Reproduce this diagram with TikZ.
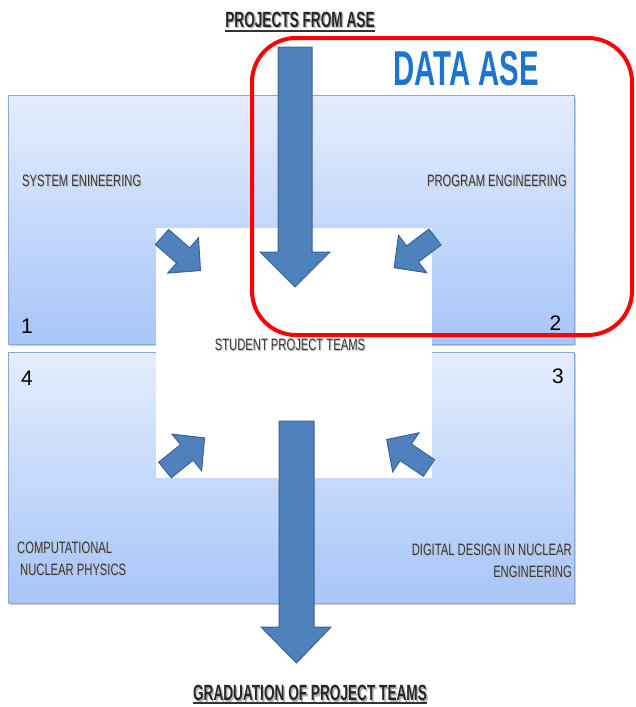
\documentclass[tikz,border=0pt]{standalone}
\usepackage{fontspec}
\setmainfont{Liberation Sans}
\newfontfamily\hdrfont[FakeStretch=0.62]{Liberation Sans}
\newfontfamily\datafont[FakeStretch=0.6]{Liberation Sans}
\newfontfamily\lblfont[FakeStretch=0.68]{Liberation Sans}
\definecolor{arrfill}{HTML}{4F81BD}
\definecolor{arrline}{HTML}{3A6496}
\definecolor{boxtop}{HTML}{E4EDFD}
\definecolor{boxbot}{HTML}{A7C5F8}
\definecolor{boxline}{HTML}{86A9DA}
\definecolor{txtgray}{HTML}{363636}
\definecolor{dataBlue}{HTML}{1C74D0}
\begin{document}
\begin{tikzpicture}[x=1pt,y=-1pt,
  quad/.style={top color=boxtop,bottom color=boxbot,draw=boxline,line width=1.2pt},
  quadshadow/.style={fill=black!18,draw=none},
  smallarr/.style={fill=arrfill,draw=arrline,line width=1pt,line join=miter},
  bigarr/.style={fill=arrfill,draw=arrline,line width=1pt},
  lbl/.style={inner sep=0pt,text=txtgray,font=\lblfont\fontsize{16.5}{19}\selectfont},
  lblshadow/.style={inner sep=0pt,text=black!25,font=\lblfont\fontsize{16.5}{19}\selectfont},
  num/.style={inner sep=0pt,text=black,font=\fontsize{21}{24}\selectfont},
  hdr/.style={inner sep=0pt,text=black!85,font=\hdrfont\bfseries\fontsize{22}{25}\selectfont},
  hdrshadow/.style={inner sep=0pt,text=black!30,font=\hdrfont\bfseries\fontsize{22}{25}\selectfont},
  uline/.style={line width=2pt,draw=black!80}
]
\useasboundingbox (0,0) rectangle (636,707);
% shadows of the boxes
\fill[quadshadow] (10,97) rectangle (576,346);
\fill[quadshadow] (10,354) rectangle (576,605);
% quadrant boxes
\node[quad,minimum width=566pt,minimum height=249pt,inner sep=0pt,anchor=north west] (topbox) at (8,95) {};
\node[quad,minimum width=566pt,minimum height=251pt,inner sep=0pt,anchor=north west] (botbox) at (8,352) {};
% white centre
\node[fill=white,draw=none,minimum width=276pt,minimum height=250pt,inner sep=0pt,anchor=north west] (centre) at (156,228) {};
% small arrows
\draw[smallarr] (155.4,244.6) -- (176.6,263.0) -- (167.7,273.1) -- (200.5,270.5) -- (198.5,237.7) -- (189.7,247.9) -- (168.6,229.5) -- cycle;
\draw[smallarr] (429.0,229.0) -- (406.6,245.9) -- (398.5,235.1) -- (394.2,267.7) -- (426.7,272.7) -- (418.6,261.9) -- (441.0,245.0) -- cycle;
\draw[smallarr] (171.3,477.8) -- (193.1,460.2) -- (201.6,470.7) -- (204.6,437.9) -- (172.0,434.1) -- (180.5,444.6) -- (158.7,462.2) -- cycle;
\draw[smallarr] (434.6,459.7) -- (411.4,444.0) -- (418.9,432.8) -- (386.7,439.5) -- (392.7,471.8) -- (400.2,460.6) -- (423.4,476.3) -- cycle;
% labels
\node[lblshadow,anchor=base west] at (23,187.5) {SYSTEM ENINEERING};
\node[lbl,anchor=base west] (sys) at (22,186.5) {SYSTEM ENINEERING};
\node[lblshadow,anchor=base east] at (568,187.5) {PROGRAM ENGINEERING};
\node[lbl,anchor=base east] (prog) at (567,186.5) {PROGRAM ENGINEERING};
\node[lblshadow,anchor=base] at (291,351) {STUDENT PROJECT TEAMS};
\node[lbl,anchor=base] (spt) at (290,350) {STUDENT PROJECT TEAMS};
\node[lblshadow,anchor=base west] at (18,554) {COMPUTATIONAL};
\node[lbl,anchor=base west] (comp1) at (17,553) {COMPUTATIONAL};
\node[lblshadow,anchor=base west] at (21,576) {NUCLEAR PHYSICS};
\node[lbl,anchor=base west] (comp2) at (20,575) {NUCLEAR PHYSICS};
\node[lblshadow,anchor=base east] at (573,556) {DIGITAL DESIGN IN NUCLEAR};
\node[lbl,anchor=base east] (dig1) at (572,555) {DIGITAL DESIGN IN NUCLEAR};
\node[lblshadow,anchor=base east] at (573,578) {ENGINEERING};
\node[lbl,anchor=base east] (dig2) at (572,577) {ENGINEERING};
% numbers
\node[num,anchor=base] (n1) at (27,333) {1};
\node[num,anchor=base] (n2) at (555.5,330) {2};
\node[num,anchor=base] (n4) at (27,385) {4};
\node[num,anchor=base] (n3) at (558,383) {3};
% big arrows
\draw[bigarr] (278,47) -- (312,47) -- (312,252) -- (330,252) -- (295,287) -- (260,252) -- (278,252) -- cycle;
\draw[bigarr] (279,421) -- (314,421) -- (314,627) -- (331,627) -- (296.5,663) -- (261,627) -- (279,627) -- cycle;
% headers
\node[hdrshadow,anchor=base] at (301.5,28.5) {PROJECTS FROM ASE};
\node[hdr,anchor=base] (pfa) at (300,27) {PROJECTS FROM ASE};
\draw[uline] (pfa.south west) ++(0,3.5) coordinate (pfaL) -- (pfaL -| pfa.south east);
\node[hdrshadow,anchor=base] at (311.5,702) {GRADUATION OF PROJECT TEAMS};
\node[hdr,anchor=base] (grad) at (310,700.5) {GRADUATION OF PROJECT TEAMS};
\draw[uline] (grad.south west) ++(0,2.5) coordinate (gradL) -- (gradL -| grad.south east);
% red rounded rectangle
\draw[red,line width=4pt,rounded corners=44pt] (252,38) rectangle (632,335);
\node[inner sep=0pt,anchor=base,text=dataBlue,font=\datafont\bfseries\fontsize{49}{56}\selectfont] (data) at (466,85) {DATA ASE};
\end{tikzpicture}
\end{document}
